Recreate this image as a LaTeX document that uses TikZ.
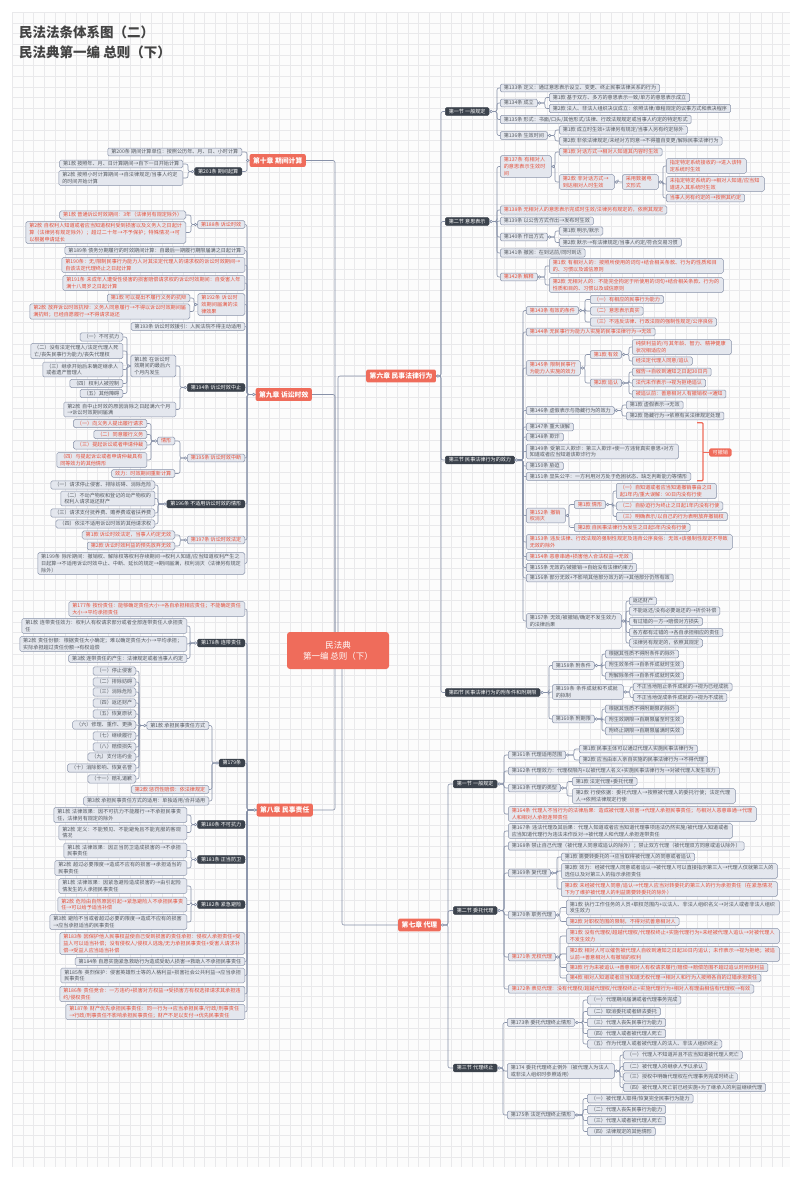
\documentclass[tikz,border=0pt]{standalone}
\usepackage{fontspec}
\usepackage{tikz}
\usetikzlibrary{calc}
\newfontfamily\cjk{Noto Sans CJK SC}
\XeTeXlinebreaklocale "zh"
\XeTeXlinebreakskip=0pt plus 0.5pt

\definecolor{lineC}{HTML}{8791A8}
\definecolor{boxF}{HTML}{E4E7EE}
\definecolor{txtC}{HTML}{545960}
\definecolor{redC}{HTML}{E5503A}
\definecolor{darkC}{HTML}{3B424C}
\definecolor{coral}{HTML}{EF6C5B}
\definecolor{gridC}{HTML}{E9E9EB}
\definecolor{paper}{HTML}{FCFCFC}
\definecolor{titleC}{HTML}{444444}

\tikzset{
  leaf/.style={draw=lineC, fill=boxF, text=txtC, rounded corners=1.5pt, line width=0.5pt,
    inner xsep=3.5pt, inner ysep=1.6pt, font=\cjk\fontsize{5.1}{6.8}\selectfont, align=left},
  hot/.style={text=redC},
  dark/.style={fill=darkC, draw=darkC, text=white},
  tw/.style={text width=#1pt},
  chap/.style={fill=coral, text=white, rounded corners=2pt, inner xsep=3.5pt, inner ysep=3.2pt,
    font=\cjk\bfseries\fontsize{6.8}{8}\selectfont},
  conn/.style={draw=lineC, line width=0.6pt, rounded corners=2pt},
  sumln/.style={draw=coral, line width=1.2pt, rounded corners=1pt},
  gridln/.style={draw=gridC, line width=0.4pt}
}

\newcommand\brR[3]{%
  \foreach \kid in {#3}{\draw[conn] (#1.east) -- ($(\kid.west |- #1.east)+(-#2,0)$) |- (\kid.west);}
  \draw[conn,fill=white] ([xshift=1.8pt]#1.east) circle (1.3pt);}
\newcommand\brL[3]{%
  \foreach \kid in {#3}{\draw[conn] (#1.west) -- ($(\kid.east |- #1.west)+(#2,0)$) |- (\kid.east);}
  \draw[conn,fill=white] ([xshift=-1.8pt]#1.west) circle (1.3pt);}

\begin{document}
\begin{tikzpicture}[x=1pt,y=-1pt]
\useasboundingbox (0,0) rectangle (800,1179);
\fill[white] (0,0) rectangle (800,1179);
\fill[paper] (12,12) rectangle (790,1167);
\foreach \gx in {12,22.7,...,790} \draw[gridln] (\gx,12) -- (\gx,1167);
\foreach \gy in {12,22.7,...,1167} \draw[gridln] (12,\gy) -- (790,\gy);

\node[anchor=north west, align=left, text=titleC, inner sep=0pt,
  font=\cjk\bfseries\fontsize{13.5}{20}\selectfont] (title) at (19,26)
  {民法法条体系图（二）\\民法典第一编 总则（下）};

\node[fill=coral, text=white, rounded corners=3pt, minimum width=102pt, minimum height=37pt,
  align=center, font=\cjk\fontsize{8.5}{11}\selectfont] (root) at (338,650.5)
  {民法典\\第一编 总则（下）};

\node[chap, anchor=east] (ch10) at (306,160.5) {第十章 期间计算};
\node[chap, anchor=east] (ch9) at (312,394.5) {第九章 诉讼时效};
\node[chap, anchor=east] (ch8) at (313,810) {第八章 民事责任};
\node[chap, anchor=west] (ch6) at (366,376) {第六章 民事法律行为};
\node[chap, anchor=west] (ch7) at (398,925) {第七章 代理};

\draw[conn] (ch10.east) -| ([xshift=-3pt]root.north);
\draw[conn] (ch9.east) -| ([xshift=-3pt]root.north);
\draw[conn] (ch6.west) -| (root.north);
\draw[conn] (ch8.east) -| ([xshift=-3pt]root.south);
\draw[conn] (ch7.west) -| ([xshift=4pt]root.south);

\begin{scope}[every node/.append style={leaf, anchor=west}]
\node[dark] (s61) at (445,111.5) {第一节 一般规定};
\node[dark] (s62) at (445,221.5) {第二节 意思表示};
\node[dark] (s63) at (445,460) {第三节 民事法律行为的效力};
\node[dark] (s64) at (445,692.5) {第四节 民事法律行为的附条件和附期限};

\node (n133) at (500,88) {第133条 定义：通过意思表示设立、变更、终止民事法律关系的行为};
\node (n134) at (500,103) {第134条 成立};
\node (n134a) at (549,97.5) {第1款 基于双方、多方的意思表示一致/单方的意思表示成立};
\node (n134b) at (549,108.5) {第2款 法人、非法人组织决议成立：依照法律/章程规定的议事方式和表决程序};
\node (n135) at (500,119.5) {第135条 形式：书面/口头/其他形式/法律、行政法规规定或当事人约定的特定形式};
\node (n136) at (500,135.5) {第136条 生效时间};
\node (n136a) at (559,130) {第1款 成立时生效+法律另有规定/当事人另有约定除外};
\node (n136b) at (559,141) {第2款 非依法律规定/未经对方同意→不得擅自变更/解除民事法律行为};

\node[hot,tw=44] (n137) at (500,166.5) {第137条 有相对人的意思表示生效时间};
\node[hot] (n137a) at (559,152) {第1款 对话方式→相对人知道其内容时生效};
\node[hot,tw=48] (n137b) at (559,182) {第2款 非对话方式→到达相对人时生效};
\node[hot,tw=29] (n137c) at (622,182) {采用数据电文形式};
\node[hot,tw=73] (n137d) at (666,166) {指定特定系统接收的→进入该特定系统时生效};
\node[hot,tw=91] (n137e) at (666,184) {未指定特定系统的→相对人知道/应当知道进入其系统时生效};
\node[hot] (n137f) at (666,198) {当事人另有约定的→按照其约定};
\node[hot] (n138) at (500,210) {第138条 无相对人的意思表示完成时生效/法律另有规定的，依照其规定};
\node (n139) at (500,221) {第139条 以公告方式作出→发布时生效};
\node (n140) at (500,237) {第140条 作出方式};
\node (n140a) at (559,231) {第1款 明示/默示};
\node (n140b) at (559,242.5) {第2款 默示→有法律规定/当事人约定/符合交易习惯};
\node (n141) at (500,253) {第141条 撤回：在到达前/同时到达};
\node[hot] (n142) at (500,277) {第142条 解释};
\node[hot,tw=167] (n142a) at (549,266) {第1款 有相对人的：按照所使用的词句+结合相关条款、行为的性质和目的、习惯以及诚信原则};
\node[hot,tw=167] (n142b) at (549,285) {第2款 无相对人的：不能完全拘泥于所使用的词句+结合相关条款、行为的性质和目的、习惯以及诚信原则};

\node[hot] (n143) at (526,310.5) {第143条 有效的条件};
\node[hot] (n143a) at (590,299.5) {（一）有相应的民事行为能力};
\node[hot] (n143b) at (590,311) {（二）意思表示真实};
\node[hot] (n143c) at (590,322) {（三）不违反法律、行政法规的强制性规定/公序良俗};
\node[hot] (n144) at (526,332) {第144条 无民事行为能力人实施的民事法律行为→无效};
\node[hot,tw=47] (n145) at (526,368) {第145条 限制民事行为能力人实施的效力};
\node[hot] (n145a) at (590,354.5) {第1款 有效};
\node[hot,tw=92] (n145c) at (632,347) {纯获利益的/与其年龄、智力、精神健康状况相适应的};
\node[hot] (n145d) at (632,361) {经法定代理人同意/追认};
\node[hot] (n145b) at (590,383) {第2款 追认};
\node[hot] (n145e) at (632,372) {催告→自收到通知之日起30日内};
\node[hot] (n145f) at (632,383) {法代未作表示→视为拒绝追认};
\node[hot] (n145g) at (632,394) {被追认前：善意相对人有撤销权→通知};
\node (n146) at (526,410.5) {第146条 虚假表示与隐藏行为的效力};
\node (n146a) at (626,405) {第1款 虚假表示→无效};
\node (n146b) at (626,416) {第2款 隐藏行为→依照有关法律规定处理};
\node (n147) at (526,427) {第147条 重大误解};
\node (n148) at (526,437) {第148条 欺诈};
\node[tw=145] (n149) at (526,451.5) {第149条 受第三人欺诈：第三人欺诈+使一方违背真实意思+对方知道或者应当知道该欺诈行为};
\node (n150) at (526,466) {第150条 胁迫};
\node (n151) at (526,476.5) {第151条 显失公平：一方利用对方处于危困状态、缺乏判断能力等情形};
\node[hot,tw=32] (n152) at (526,515.5) {第152条 撤销权消灭};
\node[hot] (n152a) at (574,504.5) {第1款 情形};
\node[hot,tw=93] (n152c) at (616,491) {（一）自知道或者应当知道撤销事由之日起1年内/重大误解：90日内没有行使};
\node[hot] (n152d) at (616,506) {（二）自胁迫行为终止之日起1年内没有行使};
\node[hot] (n152e) at (616,516.5) {（三）明确表示/以自己的行为表明放弃撤销权};
\node[hot] (n152b) at (574,527.5) {第2款 自民事法律行为发生之日起5年内没有行使};
\node[hot,tw=199] (n153) at (526,542) {第153条 违反法律、行政法规的强制性规定及违背公序良俗：无效+该强制性规定不导致无效的除外};
\node[hot] (n154) at (526,556.5) {第154条 恶意串通+损害他人合法权益→无效};
\node (n155) at (526,567.5) {第155条 无效的/被撤销→自始没有法律约束力};
\node (n156) at (526,578) {第156条 部分无效+不影响其他部分效力的→其他部分仍然有效};
\node[tw=88] (n157) at (526,621) {第157条 无效/被撤销/确定不发生效力的法律后果};
\node (n157a) at (629,601) {返还财产};
\node (n157b) at (629,611) {不能返还/没有必要返还的→折价补偿};
\node (n157c) at (629,621.5) {有过错的一方→赔偿对方损失};
\node (n157d) at (629,632.5) {各方都有过错的→各自承担相应的责任};
\node (n157e) at (629,643) {法律另有规定的，依照其规定};

\node (n158) at (552,665.5) {第158条 附条件};
\node (n158a) at (605,654) {根据其性质不得附条件的除外};
\node (n158b) at (605,665) {附生效条件→自条件成就时生效};
\node (n158c) at (605,676) {附解除条件→自条件成就时失效};
\node[tw=64] (n159) at (552,692) {第159条 条件成就和不成就的拟制};
\node (n159a) at (633,687) {不正当地阻止条件成就的→视为已经成就};
\node (n159b) at (633,697.5) {不正当地促成条件成就的→视为不成就};
\node (n160) at (552,719) {第160条 附期限};
\node (n160a) at (605,709) {根据其性质不得附期限的除外};
\node (n160b) at (605,720) {附生效期限→自期限届至时生效};
\node (n160c) at (605,731) {附终止期限→自期限届满时失效};

\node[dark] (s71) at (453,784) {第一节 一般规定};
\node[dark] (s72) at (453,910.5) {第二节 委托代理};
\node[dark] (s73) at (453,1068) {第三节 代理终止};

\node (n161) at (508,755) {第161条 代理适用范围};
\node (n161a) at (579,749) {第1款 民事主体可以通过代理人实施民事法律行为};
\node (n161b) at (579,760) {第2款 应当由本人亲自实施的民事法律行为→不得代理};
\node (n162) at (508,771) {第162条 代理效力：代理权限内+以被代理人名义+实施民事法律行为→对被代理人发生效力};
\node (n163) at (508,788) {第163条 代理的类型};
\node (n163a) at (572,781.5) {第1款 法定代理+委托代理};
\node[tw=156] (n163b) at (572,796) {第2款 行使依据：委托代理人→按照被代理人的委托行使；法定代理人→依照法律规定行使};
\node[hot,tw=241] (n164) at (508,814) {第164条 代理人不当行为的法律后果：造成被代理人损害→代理人承担民事责任；与相对人恶意串通→代理人和相对人承担连带责任};

\node[tw=217] (n167) at (508,831) {第167条 违法代理及其后果：代理人知道或者应当知道代理事项违法仍然实施/被代理人知道或者应当知道代理行为违法未作反对→被代理人和代理人承担连带责任};
\node (n168) at (508,846) {第168条 禁止自己代理（被代理人同意或追认的除外）；禁止双方代理（被代理双方同意或追认除外）};
\node (n169) at (508,873) {第169条 复代理};
\node (n169a) at (561,857) {第1款 需要转委托的→应当取得被代理人的同意或者追认};
\node[tw=209] (n169b) at (561,871) {第2款 效力：经被代理人同意或者追认→被代理人可以直接指示第三人→代理人仅就第三人的选任以及对第三人的指示承担责任};
\node[hot,tw=209] (n169c) at (561,889) {第3款 未经被代理人同意/追认→代理人应当对转委托的第三人的行为承担责任（在紧急情况下为了维护被代理人的利益需要转委托的除外）};
\node (n170) at (508,915) {第170条 职务代理};
\node[tw=206] (n170a) at (566,907.5) {第1款 执行工作任务的人员+职权范围内+以法人、非法人组织名义→对法人或者非法人组织发生效力};
\node[hot] (n170b) at (566,921.5) {第2款 对职权范围的限制，不得对抗善意相对人};
\node[hot] (n171) at (508,957) {第171条 无权代理};
\node[hot,tw=206] (n171a) at (566,936) {第1款 没有代理权/超越代理权/代理权终止+实施代理行为+未经被代理人追认→对被代理人不发生效力};
\node[hot,tw=206] (n171b) at (566,954) {第2款 相对人可以催告被代理人自收到通知之日起30日内追认；未作表示→视为拒绝；被追认前→善意相对人有撤销的权利};
\node[hot] (n171c) at (566,967.5) {第3款 行为未被追认→善意相对人有权请求履行/赔偿→赔偿范围不超过追认时所获利益};
\node[hot] (n171d) at (566,978) {第4款 相对人知道或者应当知道无权代理→相对人和行为人按照各自的过错承担责任};
\node[hot] (n172) at (508,989) {第172条 表见代理：没有代理权/超越代理权/代理权终止+实施代理行为+相对人有理由相信有代理权→有效};

\node (n173) at (507,1022.5) {第173条 委托代理终止情形};
\node (n173a) at (587,1000) {（一）代理期间届满或者代理事务完成};
\node (n173b) at (587,1011.5) {（二）取消委托或者辞去委托};
\node (n173c) at (587,1022.5) {（三）代理人丧失民事行为能力};
\node (n173d) at (587,1033.5) {（四）代理人或者被代理人死亡};
\node (n173e) at (587,1044) {（五）作为代理人或者被代理人的法人、非法人组织终止};
\node[tw=100] (n174) at (507,1071) {第174 委托代理终止例外（被代理人为法人或非法人组织时参照适用）};
\node (n174a) at (623,1055) {（一）代理人不知道并且不应当知道被代理人死亡};
\node (n174b) at (623,1066.5) {（二）被代理人的继承人予以承认};
\node (n174c) at (623,1077) {（三）授权中明确代理权在代理事务完成时终止};
\node (n174d) at (623,1087.5) {（四）被代理人死亡前已经实施+为了继承人的利益继续代理};
\node (n175) at (507,1115) {第175条 法定代理终止情形};
\node (n175a) at (587,1098.5) {（一）被代理人取得/恢复完全民事行为能力};
\node (n175b) at (587,1109.5) {（二）代理人丧失民事行为能力};
\node (n175c) at (587,1120.5) {（三）代理人或者被代理人死亡};
\node (n175d) at (587,1131.5) {（四）法律规定的其他情形};
\end{scope}

\begin{scope}[every node/.append style={leaf, anchor=east}]
\node (n200) at (242,152) {第200条 期间计算单位：按照公历年、月、日、小时计算};
\node[dark] (n201) at (242,171.5) {第201条 期间起算};
\node (n201a) at (183,164) {第1款 按照年、月、日计算期间→自下一日开始计算};
\node[tw=117] (n201b) at (183,178) {第2款 按照小时计算期间→自法律规定/当事人约定的时间开始计算};

\node[hot] (n188) at (245,224.5) {第188条 诉讼时效};
\node[hot] (n188a) at (186,215) {第1款 普通诉讼时效期间：3年（法律另有规定除外）};
\node[hot,tw=153] (n188b) at (186,232.5) {第2款 自权利人知道或者应当知道权利受到损害以及义务人之日起计算（法律另有规定除外）；超过二十年→不予保护；特殊情况→可以根据申请延长};
\node (n189) at (245,250.5) {第189条 债务分期履行的时效期间计算：自最后一期履行期限届满之日起计算};
\node[hot,tw=176] (n190) at (245,265) {第190条：无/限制民事行为能力人对其法定代理人的请求权的诉讼时效期间→自该法定代理终止之日起计算};
\node[hot,tw=175] (n191) at (245,283) {第191条 未成年人遭受性侵害的损害赔偿请求权的诉讼时效期间：自受害人年满十八周岁之日起计算};
\node[hot,tw=40] (n192) at (245,304.5) {第192条 诉讼时效期间届满的法律效果};
\node[hot] (n192a) at (190,298) {第1款 可以提出不履行义务的抗辩};
\node[hot,tw=153] (n192b) at (190,311.5) {第2款 放弃诉讼时效抗辩：义务人同意履行→不得以诉讼时效期间届满抗辩；已经自愿履行→不得请求返还};
\node (n193) at (245,326.5) {第193条 诉讼时效援引：人民法院不得主动适用};
\node[dark] (n194) at (245,387.5) {第194条 诉讼时效中止};
\node[tw=38] (n194a) at (176,366) {第1款 在诉讼时效期间的最后六个月内发生};
\node (n194c) at (123,337) {（一）不可抗力};
\node[tw=85] (n194d) at (123,351) {（二）没有法定代理人/法定代理人死亡/丧失民事行为能力/丧失代理权};
\node[tw=73] (n194e) at (123,369.5) {（三）继承开始后未确定继承人或者遗产管理人};
\node (n194f) at (123,383.5) {（四）权利人被控制};
\node (n194g) at (123,393.5) {（五）其他障碍};
\node[tw=105] (n194b) at (176,409.5) {第2款 自中止时效的原因消除之日起满六个月→诉讼时效期间届满};
\node[hot] (n195) at (245,458) {第195条 诉讼时效中断};
\node[hot] (n195a) at (175,441) {情形};
\node[hot] (n195c) at (147,423.5) {（一）向义务人提出履行请求};
\node[hot] (n195d) at (147,434.5) {（二）同意履行义务};
\node[hot] (n195e) at (147,445) {（三）提起诉讼或者申请仲裁};
\node[hot,tw=83] (n195f) at (147,460) {（四）与提起诉讼或者申请仲裁具有同等效力的其他情形};
\node[hot] (n195b) at (175,473.5) {效力：时效期间重新计算};
\node[dark] (n196) at (245,504) {第196条 不适用诉讼时效的情形};
\node (n196a) at (155,485) {（一）请求停止侵害、排除妨碍、消除危险};
\node[tw=87] (n196b) at (155,498.5) {（二）不动产物权和登记的动产物权的权利人请求返还财产};
\node (n196c) at (155,513) {（三）请求支付抚养费、赡养费或者扶养费};
\node (n196d) at (155,524) {（四）依法不适用诉讼时效的其他请求权};
\node[hot] (n197) at (245,540) {第197条 诉讼时效法定};
\node[hot] (n197a) at (175,535) {第1款 诉讼时效法定，当事人约定无效};
\node[hot] (n197b) at (175,546) {第2款 诉讼时效利益的预先放弃无效};
\node[tw=200] (n199) at (245,563.5) {第199条 除斥期间：撤销权、解除权等权利存续期间→权利人知道/应当知道权利产生之日起算→不适用诉讼时效中止、中断、延长的规定→期间届满，权利消灭（法律另有规定除外）};

\node[hot,tw=169] (n177) at (245,609) {第177条 按份责任：能够确定责任大小→各自承担相应责任；不能确定责任大小→平均承担责任};
\node[dark] (n178) at (245,643) {第178条 连带责任};
\node[tw=158] (n178a) at (187,626) {第1款 连带责任效力：权利人有权请求部分或者全部连带责任人承担责任};
\node[tw=160] (n178b) at (187,644) {第2款 责任份额：根据责任大小确定；难以确定责任大小→平均承担；实际承担超过责任份额→有权追偿};
\node (n178c) at (187,658.5) {第3款 连带责任的产生：法律规定或者当事人约定};
\node[dark] (n179) at (245,763) {第179条};
\node (n179a) at (209,725.5) {第1款 承担民事责任方式};
\foreach \lbl/\yy [count=\i] in {（一）停止侵害/671,（二）排除妨碍/682,（三）消除危险/692,（四）返还财产/703,%
  （五）恢复原状/714,（六）修理、重作、更换/725,（七）继续履行/736,（八）赔偿损失/747,%
  （九）支付违约金/757,（十）消除影响、恢复名誉/768,（十一）赔礼道歉/779}
  \node (k\i) at (136,\yy) {\lbl};
\node[hot] (n179b) at (209,789.5) {第2款 惩罚性赔偿：依法律规定};
\node (n179c) at (209,801) {第3款 承担民事责任方式的适用：单独适用/合并适用};
\node[dark] (n180) at (245,824.5) {第180条 不可抗力};
\node[tw=126] (n180a) at (187,815) {第1款 法律效果：因不可抗力不能履行→不承担民事责任，法律另有规定的除外};
\node[tw=121] (n180b) at (187,832.5) {第2款 定义：不能预见、不能避免且不能克服的客观情况};
\node[dark] (n181) at (245,859.5) {第181条 正当防卫};
\node[tw=116] (n181a) at (187,850.5) {第1款 法律效果：因正当防卫造成损害的→不承担民事责任};
\node[tw=125] (n181b) at (187,868) {第2款 超过必要限度→造成不应有的损害→承担适当的民事责任};
\node[dark] (n182) at (245,904.5) {第182条 紧急避险};
\node[tw=121] (n182a) at (187,886) {第1款 法律效果：因紧急避险造成损害的→由引起险情发生的人承担民事责任};
\node[hot,tw=122] (n182b) at (187,904.5) {第2款 危险由自然原因引起→紧急避险人不承担民事责任→可以给予适当补偿};
\node[tw=130] (n182c) at (187,922) {第3款 避险不当或者超过必要的限度→造成不应有的损害→应当承担适当的民事责任};
\node[hot,tw=178] (n183) at (245,943.5) {第183条 因保护他人民事权益使自己受到损害的责任承担：侵权人承担责任+受益人可以适当补偿；没有侵权人/侵权人逃逸/无力承担民事责任+受害人请求补偿→受益人应当适当补偿};
\node (n184) at (245,961.5) {第184条 自愿实施紧急救助行为造成受助人损害→救助人不承担民事责任};
\node[tw=177] (n185) at (245,975.5) {第185条 英烈保护：侵害英雄烈士等的人格利益+损害社会公共利益→应当承担民事责任};
\node[hot,tw=178] (n186) at (245,994) {第186条 责任竞合：一方违约+损害对方权益→受损害方有权选择请求其承担违约/侵权责任};
\node[hot,tw=172] (n187) at (245,1012) {第187条 财产优先承担民事责任：同一行为→应当承担民事/行政/刑事责任→行政/刑事责任不影响承担民事责任；财产不足以支付→优先民事责任};
\end{scope}

\node[fill=coral, text=white, rounded corners=1.5pt, inner xsep=3.5pt, inner ysep=1.8pt,
  font=\cjk\fontsize{5.1}{6.8}\selectfont, anchor=west] (kcx) at (709,452.5) {可撤销};
\coordinate (sumx) at (697,0);
\draw[sumln] (sumx |- n147.north) -- ++(6,0) |- (sumx |- n151.south);
\draw[sumln] (kcx.west) -- ++(-6,0);

\brR{ch6}{4}{s61,s62,s63,s64}
\brR{s61}{3}{n133,n134,n135,n136}
\brR{n134}{4}{n134a,n134b}
\brR{n136}{4}{n136a,n136b}
\brR{s62}{3}{n137,n138,n139,n140,n141,n142}
\brR{n137}{4}{n137a,n137b}
\brR{n137b}{4}{n137c}
\brR{n137c}{3}{n137d,n137e,n137f}
\brR{n140}{4}{n140a,n140b}
\brR{n142}{4}{n142a,n142b}
\brR{s63}{3}{n143,n144,n145,n146,n147,n148,n149,n150,n151,n152,n153,n154,n155,n156,n157}
\brR{n143}{5}{n143a,n143b,n143c}
\brR{n145}{5}{n145a,n145b}
\brR{n145a}{3}{n145c,n145d}
\brR{n145b}{3}{n145e,n145f,n145g}
\brR{n146}{4}{n146a,n146b}
\brR{n152}{5}{n152a,n152b}
\brR{n152a}{3}{n152c,n152d,n152e}
\brR{n157}{3}{n157a,n157b,n157c,n157d,n157e}
\brR{s64}{3}{n158,n159,n160}
\brR{n158}{3}{n158a,n158b,n158c}
\brR{n159}{3}{n159a,n159b}
\brR{n160}{3}{n160a,n160b,n160c}
\brR{ch7}{5}{s71,s72,s73}
\brR{s71}{4}{n161,n162,n163,n164}
\brR{n161}{5}{n161a,n161b}
\brR{n163}{5}{n163a,n163b}
\brR{s72}{4}{n167,n168,n169,n170,n171,n172}
\brR{n169}{4}{n169a,n169b,n169c}
\brR{n170}{6}{n170a,n170b}
\brR{n171}{6}{n171a,n171b,n171c,n171d}
\brR{s73}{4}{n173,n174,n175}
\brR{n173}{4}{n173a,n173b,n173c,n173d,n173e}
\brR{n174}{3}{n174a,n174b,n174c,n174d}
\brR{n175}{4}{n175a,n175b,n175c,n175d}

\brL{ch10}{5}{n200,n201}
\brL{n201}{5}{n201a,n201b}
\brL{ch9}{2}{n188,n189,n190,n191,n192,n193,n194,n195,n196,n197,n199}
\brL{n188}{5}{n188a,n188b}
\brL{n192}{4}{n192a,n192b}
\brL{n194}{4}{n194a,n194b}
\brL{n194a}{4}{n194c,n194d,n194e,n194f,n194g}
\brL{n195}{5}{n195a,n195b}
\brL{n195a}{4}{n195c,n195d,n195e,n195f}
\brL{n196}{3}{n196a,n196b,n196c,n196d}
\brL{n197}{5}{n197a,n197b}
\brL{ch8}{2}{n177,n178,n179,n180,n181,n182,n183,n184,n185,n186,n187}
\brL{n178}{3}{n178a,n178b,n178c}
\brL{n179}{3}{n179a,n179b,n179c}
\brL{n179a}{3}{k1,k2,k3,k4,k5,k6,k7,k8,k9,k10,k11}
\brL{n180}{4}{n180a,n180b}
\brL{n181}{4}{n181a,n181b}
\brL{n182}{4}{n182a,n182b,n182c}
\end{tikzpicture}
\end{document}
